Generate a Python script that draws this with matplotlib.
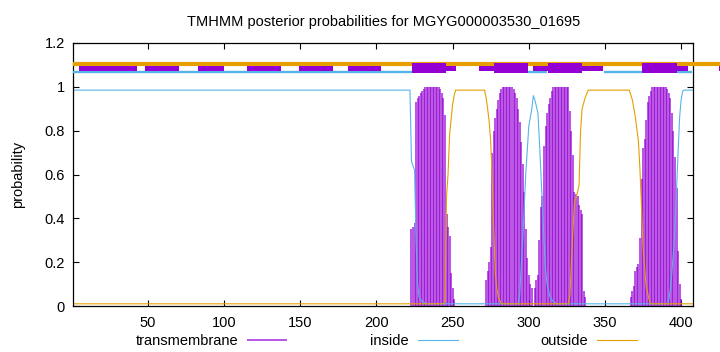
#!/usr/bin/env python3
"""TMHMM posterior probability plot redrawn with matplotlib."""

import matplotlib
matplotlib.use("Agg")
import matplotlib.pyplot as plt
import numpy as np

plt.rcParams["font.family"] = ["Liberation Sans", "DejaVu Sans"]
plt.rcParams["font.size"] = 10.5

TITLE = "TMHMM posterior probabilities for MGYG000003530_01695"
SEQ_LEN = 408

# transmembrane posterior, one impulse per residue, per helix
tm1_start = 223
tm1_prob = [0.35, 0.36, 0.38, 0.93, 0.95, 0.96, 0.97, 0.98, 0.99,
            1, 1, 1, 1, 1, 1, 1, 1, 1, 1,
            0.99, 0.97, 0.95, 0.87, 0.42, 0.36, 0.32, 0.15, 0.08, 0.03]
tm2_start = 272
tm2_prob = [0.12, 0.16, 0.20, 0.27, 0.70, 0.80, 0.86, 0.90, 0.94, 0.97, 0.99,
            1, 1, 1, 1, 1, 1, 1,
            0.99, 0.97, 0.95, 0.90, 0.84, 0.75, 0.65, 0.52, 0.35, 0.22, 0.14,
            0.10, 0.08]
tm3_start = 304
tm3_prob = [0.08, 0.12, 0.14, 0.30, 0.45, 0.50, 0.73, 0.82, 0.88, 0.92, 0.95,
            0.98, 1, 1, 1, 1, 1, 1, 1, 1, 1, 1, 1,
            0.89, 0.80, 0.69, 0.52, 0.51, 0.50, 0.46, 0.44, 0.42, 0.07, 0.04]
tm4_start = 367
tm4_prob = [0.04, 0.07, 0.09, 0.16, 0.18, 0.19, 0.31, 0.58, 0.72, 0.76, 0.85,
            0.93, 0.96, 0.98, 1, 1, 1, 1, 1, 1, 1, 1, 1, 1,
            0.99, 0.97, 0.95, 0.88, 0.80, 0.68, 0.54, 0.25, 0.10, 0.03]

# inside posterior (read at the corners of the curve)
inside_res = [1, 222, 223, 225, 226, 227, 228, 230, 233, 293, 294, 296, 298,
              300, 302, 303, 304, 306, 307, 308, 309, 310, 311, 312, 314, 316,
              318, 391, 392, 393, 394, 395, 396, 397, 398, 399, 400, 401, 402,
              408]
inside_prob = [0.985, 0.985, 0.66, 0.62, 0.30, 0.10, 0.04, 0.02, 0.01, 0.01,
               0.05, 0.30, 0.60, 0.82, 0.90, 0.96, 0.94, 0.88, 0.75, 0.60,
               0.45, 0.30, 0.17, 0.10, 0.04, 0.02, 0.01, 0.01, 0.03, 0.08,
               0.16, 0.25, 0.36, 0.53, 0.70, 0.86, 0.94, 0.98, 0.985, 0.985]

# outside posterior
outside_res = [1, 244, 245, 246, 247, 248, 249, 250, 251, 252, 271, 272, 273,
               274, 275, 276, 277, 278, 279, 280, 282, 326, 327, 328, 329, 330,
               332, 333, 334, 335, 337, 339, 366, 368, 370, 372, 373, 374, 375,
               376, 377, 379, 380, 408]
outside_prob = [0.01, 0.01, 0.02, 0.50, 0.60, 0.78, 0.85, 0.92, 0.96, 0.985,
                0.985, 0.95, 0.90, 0.84, 0.75, 0.58, 0.35, 0.15, 0.08, 0.04,
                0.01, 0.01, 0.05, 0.20, 0.35, 0.47, 0.52, 0.55, 0.80, 0.90,
                0.95, 0.985, 0.985, 0.94, 0.86, 0.75, 0.62, 0.45, 0.27, 0.18,
                0.09, 0.03, 0.01, 0.01]

# topology strip above the curves
strip_starts = [4.7, 48.0, 82.9, 115.1, 149.2, 181.2, 223.5, 267.5, 302.5,
                374.6, 425.0]
strip_ends = [42.8, 70.2, 99.9, 137.2, 171.4, 202.9, 252.2, 299.3, 348.5,
              404.8, 440.0]
helix_starts = [223.5, 277.3, 312.6, 374.6]
helix_ends = [245.6, 299.3, 334.8, 397.2]
inside_strip_starts = [1, 299.3, 349.4, 397.2]
inside_strip_ends = [223.5, 311.8, 374.6, 407.4]
outside_strip = [1, 426]

x_ticks = [50, 100, 150, 200, 250, 300, 350, 400]
y_ticks = [0, 0.2, 0.4, 0.6, 0.8, 1, 1.2]

colors = {"tm": "#9400d3", "inside": "#56b4e9", "outside": "#e69f00"}

fig = plt.figure(figsize=(7.2, 3.52), dpi=100)
ax = fig.add_axes([73.3 / 720, 46 / 352, 620 / 720, 263 / 352])

tm_x = np.concatenate([np.arange(s, s + len(p)) for s, p in
                       [(tm1_start, tm1_prob), (tm2_start, tm2_prob),
                        (tm3_start, tm3_prob), (tm4_start, tm4_prob)]])
tm_y = np.concatenate([tm1_prob, tm2_prob, tm3_prob, tm4_prob])
tm_art = ax.vlines(tm_x, 0, tm_y, color=colors["tm"], lw=1.1, alpha=0.85,
                   label="transmembrane")
in_art, = ax.plot(inside_res, inside_prob, color=colors["inside"], lw=0.8,
                  label="inside")
out_art, = ax.plot(outside_res, outside_prob, color=colors["outside"], lw=0.8,
                   label="outside")

# topology strip
ax.hlines(1.106, outside_strip[0], outside_strip[1], color=colors["outside"],
          lw=3, clip_on=False, zorder=3)
ax.hlines([1.0666] * len(inside_strip_starts), inside_strip_starts,
          inside_strip_ends, color=colors["inside"], lw=1.7, clip_on=False,
          zorder=3)
bars = ax.broken_barh([(s, e - s) for s, e in zip(strip_starts, strip_ends)],
                      (1.073, 0.022), facecolor=colors["tm"], zorder=4)
bars.set_clip_on(False)
tall = ax.broken_barh([(s, e - s) for s, e in zip(helix_starts, helix_ends)],
                      (1.064, 0.045), facecolor=colors["tm"], zorder=4)
tall.set_clip_on(False)

ax.set_xlim(1, SEQ_LEN)
ax.set_ylim(0, 1.2)
ax.set_xticks(x_ticks)
ax.set_yticks(y_ticks, labels=[f"{v:g}" for v in y_ticks])
ax.tick_params(direction="in", length=4, width=0.8, top=True, right=True,
               labelsize=10.5)
ax.tick_params(axis="x", pad=7)
ax.tick_params(axis="y", pad=6)
for spine in ax.spines.values():
    spine.set_linewidth(0.9)
ax.set_ylabel("probability", labelpad=14)
ax.set_title(TITLE, fontsize=10.5, pad=12)

fig.legend([tm_art, in_art, out_art], ["transmembrane", "inside", "outside"],
           loc="center", bbox_to_anchor=(386.4 / 720, 1 - 341 / 352), ncol=3,
           markerfirst=False, frameon=False, handlelength=2.74,
           handletextpad=0.6, columnspacing=5.7, fontsize=10.5)

fig.savefig("out.png", dpi=100)
